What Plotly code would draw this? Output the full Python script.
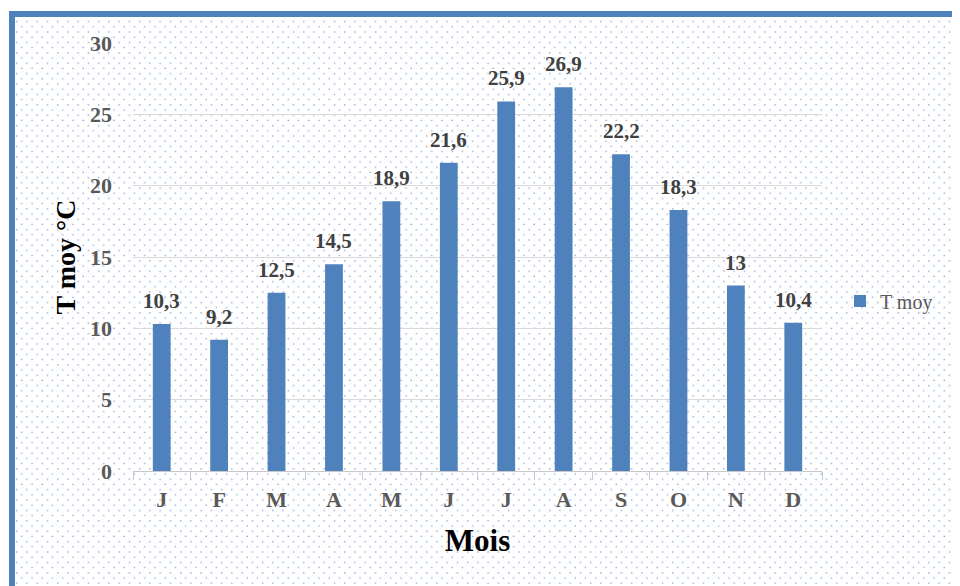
import base64
import plotly.graph_objects as go

# ---- data ----
months = ["J", "F", "M", "A", "M", "J", "J", "A", "S", "O", "N", "D"]
t_moy = [10.3, 9.2, 12.5, 14.5, 18.9, 21.6, 25.9, 26.9, 22.2, 18.3, 13, 10.4]
y_ticks = [0, 5, 10, 15, 20, 25, 30]
series_name = "T moy"
x_title = "Mois"
y_title = "T moy °C"

W, H = 960, 586
OFF = 8  # page body margin
# plot area in page pixels: x 133..822, y 43..471
ML = 133 - OFF
MT = 43 - OFF
MR = W - (822 - OFF)
MB = H - (471 - OFF)
PW, PH = W - ML - MR, H - MT - MB


def X(px):  # page pixel -> paper
    return (px - OFF - ML) / PW


def Y(py):
    return (H - MB - (py - OFF)) / PH


FONT = "Liberation Serif, Times New Roman, serif"
BLUE = "#4f81bd"

idx = list(range(len(months)))
labels = [f"{v:g}".replace(".", ",") for v in t_moy]

fig = go.Figure()
fig.add_trace(go.Bar(
    x=idx, y=t_moy, name=series_name,
    marker=dict(color=BLUE, line=dict(width=0)),
    width=0.31, showlegend=True,
))

for i, v, lab in zip(idx, t_moy, labels):
    fig.add_annotation(
        x=i, y=v, text=lab, showarrow=False, yanchor="bottom", yshift=9,
        font=dict(family=FONT, size=21, color="#404040", weight="bold"),
    )

# dotted background pattern (decorative)
bx0, by0 = 15, 17
bw, bh = W + 20 - bx0, H + 20 - by0
svg = (
    f'<svg xmlns="http://www.w3.org/2000/svg" width="{bw}" height="{bh}">'
    '<defs><pattern id="p" patternUnits="userSpaceOnUse" width="10.25" height="10.4">'
    '<rect x="1" y="4" width="1.3" height="1.3" fill="#7b9dd6"/>'
    '<rect x="6.1" y="9.2" width="1.3" height="1.3" fill="#7b9dd6"/>'
    '</pattern></defs>'
    f'<rect width="{bw}" height="{bh}" fill="white"/>'
    f'<rect width="{bw}" height="{bh}" fill="url(#p)"/></svg>'
)
src = "data:image/svg+xml;base64," + base64.b64encode(svg.encode()).decode()
fig.add_layout_image(
    source=src, xref="paper", yref="paper", x=X(bx0), y=Y(by0),
    sizex=bw / PW, sizey=bh / PH, xanchor="left", yanchor="top",
    sizing="stretch", layer="below",
)

# blue frame
fig.add_shape(
    type="rect", xref="paper", yref="paper",
    x0=X(12), y0=Y(14), x1=X(1000), y1=Y(640),
    line=dict(color=BLUE, width=6), fillcolor="rgba(0,0,0,0)",
)

fig.update_layout(
    width=W, height=H,
    margin=dict(l=ML, r=MR, t=MT, b=MB, pad=0),
    paper_bgcolor="white", plot_bgcolor="rgba(0,0,0,0)",
    font=dict(family=FONT, color="#595959"),
    legend=dict(
        x=X(840), y=Y(301), xanchor="left", yanchor="middle",
        bgcolor="rgba(0,0,0,0)", itemwidth=30,
        font=dict(family=FONT, size=20, color="#595959"),
    ),
    xaxis=dict(
        range=[-0.5, len(months) - 0.5],
        tickmode="array", tickvals=idx, ticktext=months,
        ticks="", showgrid=False, zeroline=False,
        showline=True, linecolor="#c8c8c8", linewidth=1,
        tickfont=dict(family=FONT, size=22, color="#595959", weight="bold"),
        ticklabelstandoff=9,
        minor=dict(tickvals=[i - 0.5 for i in range(len(months) + 1)],
                   ticks="outside", ticklen=8, tickcolor="#c8c8c8", tickwidth=1,
                   showgrid=False),
        title=dict(text=x_title, standoff=17,
                   font=dict(family=FONT, size=31, color="black", weight="bold")),
    ),
    yaxis=dict(
        range=[0, 30], tickmode="array", tickvals=y_ticks,
        showgrid=True, gridcolor="#d9d9d9", gridwidth=1,
        zeroline=False, showline=False, ticks="",
        tickfont=dict(family=FONT, size=22, color="#595959", weight="bold"),
        ticklabelstandoff=20,
        title=dict(text=y_title, standoff=6,
                   font=dict(family=FONT, size=28, color="black", weight="bold")),
    ),
)

fig.write_html("out.html")
